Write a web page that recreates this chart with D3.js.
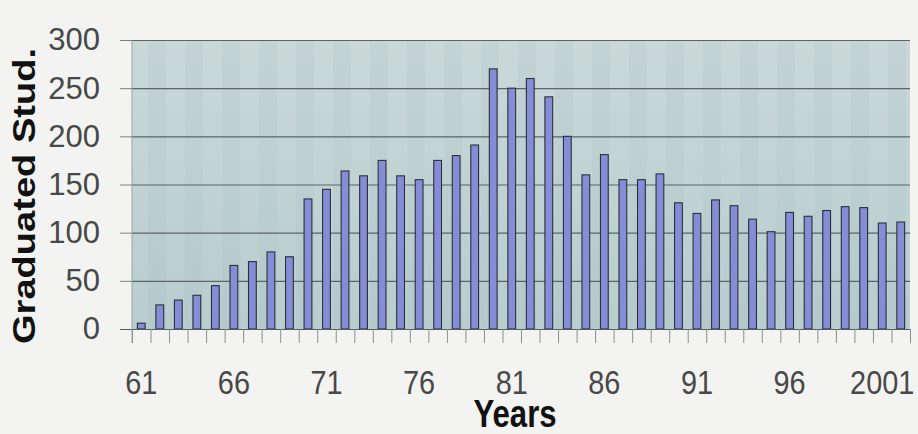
<!DOCTYPE html>
<html>
<head>
<meta charset="utf-8">
<script src="https://cdn.jsdelivr.net/npm/d3@7"></script>
<style>
  html, body { margin: 0; padding: 0; background: #f3f4f1; }
  svg { display: block; }
</style>
</head>
<body>
<svg id="chart" width="918" height="434"></svg>
<script>
// ---- data ----
const years = [1961,1962,1963,1964,1965,1966,1967,1968,1969,1970,
               1971,1972,1973,1974,1975,1976,1977,1978,1979,1980,
               1981,1982,1983,1984,1985,1986,1987,1988,1989,1990,
               1991,1992,1993,1994,1995,1996,1997,1998,1999,2000,
               2001,2002];
const graduated = [6,25,30,35,45,66,70,80,75,135,
                   145,164,159,175,159,155,175,180,191,270,
                   250,260,241,200,160,181,155,155,161,131,
                   120,134,128,114,101,121,117,123,127,126,
                   110,111];
const yTicks = [0,50,100,150,200,250,300];
const xLabelYears = [1961,1966,1971,1976,1981,1986,1991,1996,2001];
const xLabelText = ["61","66","71","76","81","86","91","96","2001"];
const yTitle = "Graduated Stud.";
const xTitle = "Years";

// ---- layout ----
const svg = d3.select("#chart");
const L = 132, R = 910, T = 40, B = 329;

const x = d3.scaleBand().domain(years.map(String)).range([L, R])
  .paddingInner(0.58).paddingOuter(0.29);
const xIdx = d3.scaleLinear().domain([0, years.length]).range([L, R]);
const y = d3.scaleLinear().domain([0, 300]).range([B, T]);

const defs = svg.append("defs");
const grad = defs.append("linearGradient").attr("id","bg").attr("x1",0).attr("y1",0).attr("x2",0).attr("y2",1);
grad.append("stop").attr("offset","0%").attr("stop-color","#cad8d8");
grad.append("stop").attr("offset","100%").attr("stop-color","#b8cdce");
const pat = defs.append("pattern").attr("id","stripes").attr("patternUnits","userSpaceOnUse")
  .attr("width",37).attr("height",10);
pat.append("rect").attr("width",18).attr("height",10).attr("fill","rgba(110,140,145,0.06)");

// plot background
svg.append("rect").attr("x",L).attr("y",T).attr("width",R-L).attr("height",B-T).attr("fill","url(#bg)");
svg.append("rect").attr("x",L).attr("y",T).attr("width",R-L).attr("height",B-T).attr("fill","url(#stripes)");

// gridlines
svg.append("g").attr("transform",`translate(${L},0)`)
  .call(d3.axisLeft(y).tickValues(yTicks).tickSize(-(R-L)).tickFormat(""))
  .call(g => g.select(".domain").remove())
  .call(g => g.selectAll("line").attr("stroke","#5c6464").attr("stroke-width",1.2));

// left plot edge
svg.append("line").attr("x1",L).attr("x2",L).attr("y1",T).attr("y2",B+14)
  .attr("stroke","#9aa4a4").attr("stroke-width",1);

// bars
svg.append("g").selectAll("rect").data(years).join("rect")
  .attr("x", (d) => x(String(d)))
  .attr("width", x.bandwidth())
  .attr("y", (d,i) => y(graduated[i]))
  .attr("height", (d,i) => y(0) - y(graduated[i]))
  .attr("fill","#858dd6")
  .attr("stroke","#2e2f3c")
  .attr("stroke-width",1.1);

// y axis ticks + labels
const yAx = svg.append("g").attr("transform",`translate(${L},0)`)
  .call(d3.axisLeft(y).tickValues(yTicks).tickSize(12).tickPadding(20));
yAx.select(".domain").remove();
yAx.selectAll("line").attr("stroke","#7a8080");
yAx.selectAll("text").attr("font-family","'Liberation Sans', Arial, sans-serif")
  .attr("font-size",31).attr("fill","#484848");

// x axis tick marks (category boundaries)
const xAx = svg.append("g").attr("transform",`translate(0,${B})`)
  .call(d3.axisBottom(xIdx).tickValues(d3.range(years.length+1)).tickSize(14).tickFormat(""));
xAx.select(".domain").attr("stroke","#555c5c").attr("stroke-width",1.2).attr("d",`M${L-12},0.5H${R}`);
xAx.selectAll("line").attr("stroke","#8a8f8f");

// x labels
svg.append("g").selectAll("text").data(xLabelYears).join("text")
  .attr("transform", (d) => `translate(${x(String(d)) + x.bandwidth()/2},394) scale(0.85,1)`)
  .attr("text-anchor","middle")
  .attr("font-family","'Liberation Sans', Arial, sans-serif")
  .attr("font-size",34).attr("fill","#484848")
  .text((d,i) => xLabelText[i]);

// axis titles
svg.append("text")
  .attr("transform","translate(515,427) scale(0.82,1)")
  .attr("text-anchor","middle")
  .attr("font-family","'Liberation Sans', Arial, sans-serif")
  .attr("font-weight","bold").attr("font-size",38).attr("fill","#111")
  .text(xTitle);

svg.append("text")
  .attr("transform","translate(35,196) rotate(-90) scale(1.19,1)")
  .attr("text-anchor","middle")
  .attr("font-family","'Liberation Sans', Arial, sans-serif")
  .attr("font-weight","bold").attr("font-size",32).attr("fill","#111")
  .text(yTitle);
</script>
</body>
</html>
